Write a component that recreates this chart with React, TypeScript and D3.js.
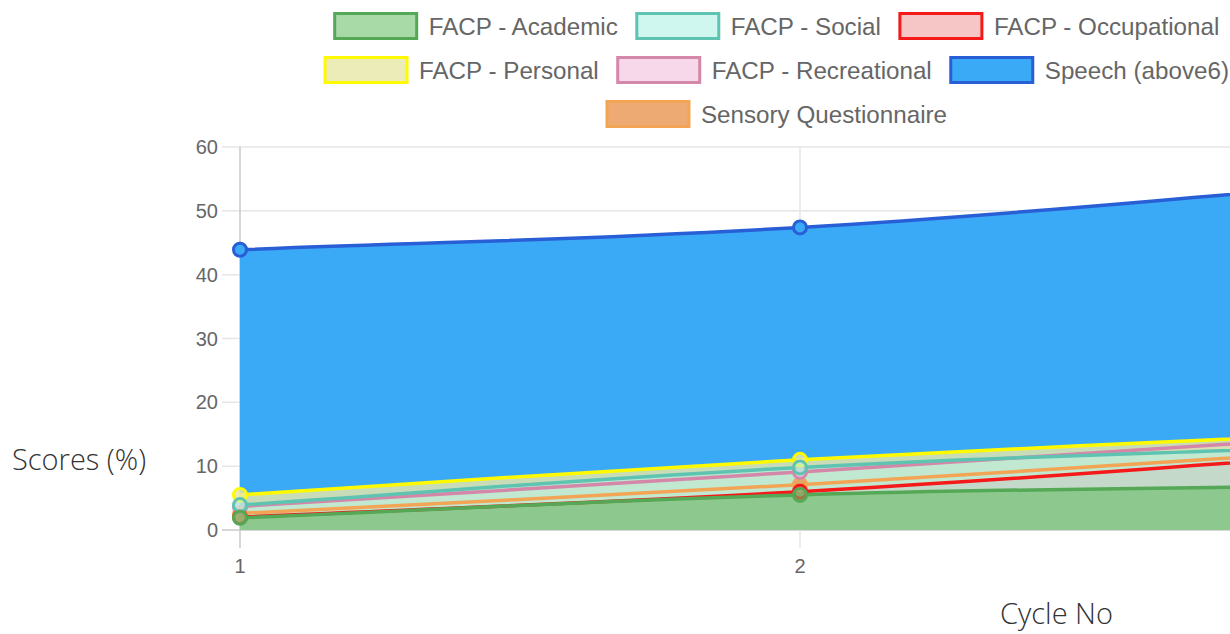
import React, { useEffect, useRef } from "react";
import * as d3 from "d3";

const cycles = [1, 2, 3];
const academic = [1.9, 5.5, 7.0];
const social = [3.9, 9.8, 13.2];
const occupational = [2.0, 6.0, 11.9];
const personal = [5.5, 11.0, 15.2];
const recreational = [3.7, 9.1, 14.8];
const speech = [43.9, 47.4, 54.2];
const sensory = [2.6, 7.1, 12.6];
const seriesNames = [
  "FACP - Academic",
  "FACP - Social",
  "FACP - Occupational",
  "FACP - Personal",
  "FACP - Recreational",
  "Speech (above6)",
  "Sensory Questionnaire",
];
const yTicks = [0, 10, 20, 30, 40, 50, 60];
const xTicks = [1, 2, 3];

const W = 1230;
const H = 634;

const styles = [
  { fill: "rgba(95,188,95,0.55)", stroke: "rgb(85,168,85)" },
  { fill: "rgba(175,240,228,0.6)", stroke: "rgb(95,195,178)" },
  { fill: "rgba(238,150,150,0.55)", stroke: "rgb(245,25,25)" },
  { fill: "rgba(232,232,168,0.82)", stroke: "rgb(255,250,0)" },
  { fill: "rgba(240,190,220,0.6)", stroke: "rgb(212,135,168)" },
  { fill: "rgb(59,170,246)", stroke: "rgb(40,95,215)" },
  { fill: "rgba(232,150,80,0.8)", stroke: "rgb(242,165,85)" },
];

function splinePath(pts: [number, number][], path: d3.Path, t = 0.4) {
  const cps = pts.map((cur, i) => {
    const prev = i > 0 ? pts[i - 1] : cur;
    const next = i < pts.length - 1 ? pts[i + 1] : cur;
    const d01 = Math.hypot(cur[0] - prev[0], cur[1] - prev[1]);
    const d12 = Math.hypot(next[0] - cur[0], next[1] - cur[1]);
    let s01 = d01 / (d01 + d12);
    let s12 = d12 / (d01 + d12);
    if (isNaN(s01)) s01 = 0;
    if (isNaN(s12)) s12 = 0;
    const fa = t * s01;
    const fb = t * s12;
    return {
      p: [cur[0] - fa * (next[0] - prev[0]), cur[1] - fa * (next[1] - prev[1])],
      n: [cur[0] + fb * (next[0] - prev[0]), cur[1] + fb * (next[1] - prev[1])],
    };
  });
  for (let i = 1; i < pts.length; i++) {
    const a = cps[i - 1].n;
    const b = cps[i].p;
    path.bezierCurveTo(a[0], a[1], b[0], b[1], pts[i][0], pts[i][1]);
  }
}

export default function App() {
  const ref = useRef<SVGSVGElement>(null);
  useEffect(() => {
    document.body.style.margin = "0";
    const svg = d3.select(ref.current);
    svg.selectAll("*").remove();

    const x = d3.scaleLinear().domain([1, 3]).range([240, 1360]);
    const y = d3.scaleLinear().domain([0, 60]).range([530, 147]);
    const data = [academic, social, occupational, personal, recreational, speech, sensory];

    // grid
    const g = svg.append("g");
    yTicks.forEach((v) => {
      g.append("line")
        .attr("x1", 222).attr("x2", W)
        .attr("y1", y(v)).attr("y2", y(v))
        .attr("stroke", v === 0 ? "#c8c8c8" : "#e6e6e6")
        .attr("stroke-width", 1.5);
      g.append("text")
        .attr("x", 218).attr("y", y(v))
        .attr("text-anchor", "end").attr("dominant-baseline", "central")
        .attr("font-family", "Liberation Sans, Arial, sans-serif")
        .attr("font-size", 20).attr("fill", "#666")
        .text(String(v));
    });
    xTicks.filter((v) => x(v) <= W).forEach((v) => {
      g.append("line")
        .attr("x1", x(v)).attr("x2", x(v))
        .attr("y1", y(60)).attr("y2", 548)
        .attr("stroke", v === 1 ? "#c8c8c8" : "#e6e6e6")
        .attr("stroke-width", 1.5);
      g.append("text")
        .attr("x", x(v)).attr("y", 566)
        .attr("text-anchor", "middle").attr("dominant-baseline", "central")
        .attr("font-family", "Liberation Sans, Arial, sans-serif")
        .attr("font-size", 20).attr("fill", "#666")
        .text(String(v));
    });

    const ptsOf = (vals: number[]) =>
      vals.map((v, i) => [x(cycles[i]), y(v)] as [number, number]);

    // fills (reverse order)
    for (let k = data.length - 1; k >= 0; k--) {
      const pts = ptsOf(data[k]);
      const p = d3.path();
      p.moveTo(pts[0][0], pts[0][1]);
      splinePath(pts, p);
      p.lineTo(pts[pts.length - 1][0], y(0));
      p.lineTo(pts[0][0], y(0));
      p.closePath();
      svg.append("path").attr("d", p.toString()).attr("fill", styles[k].fill);
    }
    // lines
    for (let k = data.length - 1; k >= 0; k--) {
      const pts = ptsOf(data[k]);
      const p = d3.path();
      p.moveTo(pts[0][0], pts[0][1]);
      splinePath(pts, p);
      svg.append("path").attr("d", p.toString())
        .attr("fill", "none").attr("stroke", styles[k].stroke)
        .attr("stroke-width", 3.5);
    }
    // points
    for (let k = data.length - 1; k >= 0; k--) {
      const pts = ptsOf(data[k]).filter((pt) => pt[0] <= W);
      pts.forEach((pt) => {
        svg.append("circle")
          .attr("cx", pt[0]).attr("cy", pt[1]).attr("r", 6.5)
          .attr("fill", styles[k].fill)
          .attr("stroke", styles[k].stroke).attr("stroke-width", 3);
      });
    }

    // legend
    const rows = [[0, 1, 2], [3, 4, 5], [6]];
    const rowY = [26, 70, 114];
    const boxW = 82, boxH = 25, gapBT = 12, itemGap = 19;
    const fs = 24.2;
    const center = 777;
    rows.forEach((row, ri) => {
      const lg = svg.append("g");
      const widths = row.map((k) => {
        const t = lg.append("text")
          .attr("font-family", "Liberation Sans, Arial, sans-serif")
          .attr("font-size", fs).text(seriesNames[k]);
        const w = (t.node() as SVGTextElement).getComputedTextLength();
        t.remove();
        return w;
      });
      const total = widths.reduce((s, w) => s + boxW + gapBT + w, 0) + itemGap * (row.length - 1);
      let cx = center - total / 2;
      row.forEach((k, j) => {
        lg.append("rect")
          .attr("x", cx).attr("y", rowY[ri] - boxH / 2)
          .attr("width", boxW).attr("height", boxH)
          .attr("fill", styles[k].fill)
          .attr("stroke", styles[k].stroke).attr("stroke-width", 3);
        lg.append("text")
          .attr("x", cx + boxW + gapBT).attr("y", rowY[ri])
          .attr("dominant-baseline", "central")
          .attr("font-family", "Liberation Sans, Arial, sans-serif")
          .attr("font-size", fs).attr("fill", "#666")
          .text(seriesNames[k]);
        cx += boxW + gapBT + widths[j] + itemGap;
      });
    });

    // axis titles
    svg.append("text")
      .attr("x", 12).attr("y", 470)
      .attr("font-family", "Open Sans, sans-serif").attr("font-weight", 300)
      .attr("font-size", 29).attr("fill", "#333")
      .text("Scores (%)");
    svg.append("text")
      .attr("x", 1000).attr("y", 624)
      .attr("font-family", "Open Sans, sans-serif").attr("font-weight", 300)
      .attr("font-size", 29).attr("fill", "#333")
      .text("Cycle No");
  }, []);

  return <svg ref={ref} width={W} height={H} style={{ display: "block", background: "#fff" }} />;
}
